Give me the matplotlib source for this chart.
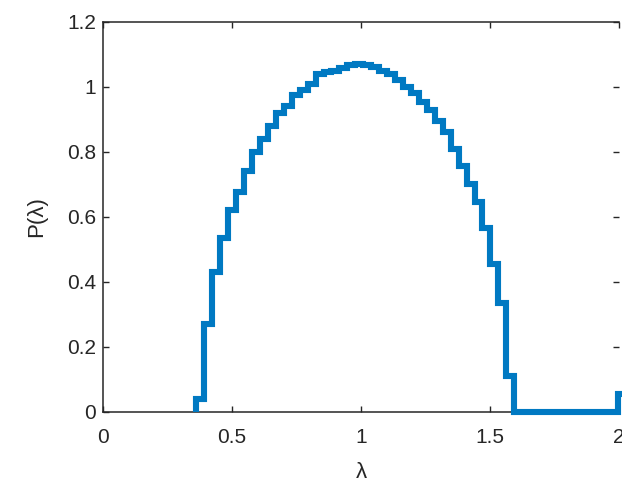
import numpy as np
import matplotlib
matplotlib.use("Agg")
import matplotlib.pyplot as plt

plt.rcParams['font.family'] = ['Liberation Sans', 'DejaVu Sans']

# Histogram data (normalized density), regular bins
bin_lo = 0.362
bin_hi = 2.0252
n_bins = 54
density = [0.04, 0.27, 0.43, 0.535, 0.62, 0.675, 0.74, 0.80, 0.84, 0.88,
           0.92, 0.94, 0.975, 0.99, 1.01, 1.04, 1.045, 1.05, 1.058, 1.066,
           1.07, 1.066, 1.06, 1.05, 1.04, 1.02, 1.0, 0.98, 0.955, 0.93,
           0.895, 0.86, 0.81, 0.755, 0.70, 0.645, 0.565, 0.455, 0.335, 0.11,
           0, 0, 0, 0, 0, 0, 0, 0, 0, 0, 0, 0, 0, 0.055]

x_ticks = [0, 0.5, 1, 1.5, 2]
x_labels = ['0', '0.5', '1', '1.5', '2']
y_ticks = [0, 0.2, 0.4, 0.6, 0.8, 1, 1.2]
y_labels = ['0', '0.2', '0.4', '0.6', '0.8', '1', '1.2']

edges = np.linspace(bin_lo, bin_hi, n_bins + 1)

fig = plt.figure(figsize=(6.22, 4.84), dpi=100)
ax = fig.add_axes([103/622, 1 - 411.5/484, (619 - 103)/622, (411.5 - 22)/484])

ax.stairs(density, edges, color='#0079C2', linewidth=4.4, baseline=0,
          clip_on=False, zorder=3)

ax.set_xlim(0, 2)
ax.set_ylim(0, 1.2)
ax.set_xticks(x_ticks)
ax.set_xticklabels(x_labels)
ax.set_yticks(y_ticks)
ax.set_yticklabels(y_labels)

for s in ['left', 'bottom', 'top']:
    ax.spines[s].set_color('#262626')
    ax.spines[s].set_linewidth(1.1)
ax.spines['right'].set_visible(False)

ax.tick_params(axis='both', direction='in', length=4, width=1.0,
               color='#262626', labelcolor='#262626', labelsize=15,
               top=True, right=True)
ax.tick_params(axis='x', pad=12)
ax.tick_params(axis='y', pad=5)

ax.set_xlabel('λ', fontsize=16, color='#262626', labelpad=11)
ax.set_ylabel('P(λ)', fontsize=16, color='#262626', labelpad=14)

fig.savefig('out.png', dpi=100)
